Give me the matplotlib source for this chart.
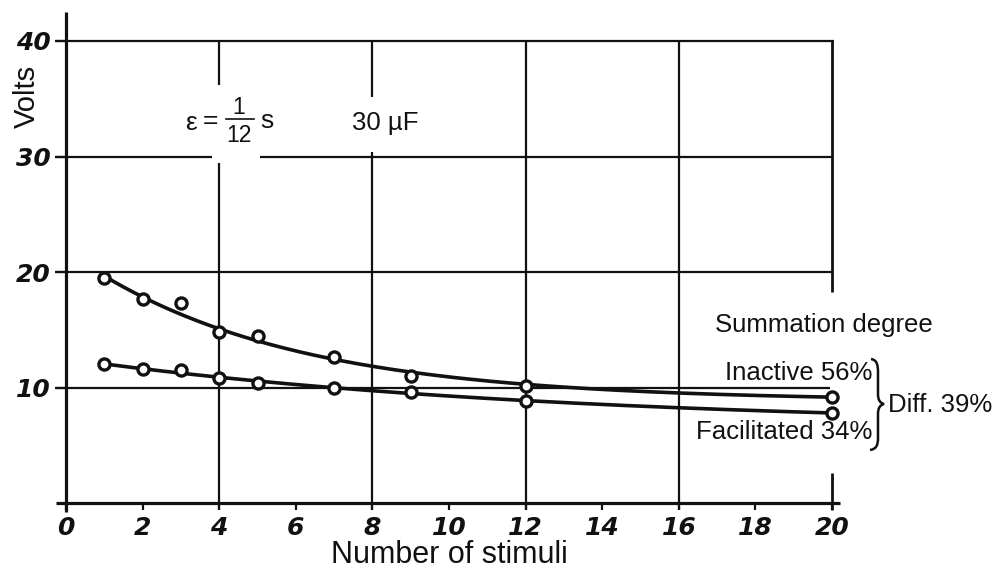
import numpy as np
import matplotlib
matplotlib.use("Agg")
import matplotlib.pyplot as plt
from matplotlib.path import Path
from matplotlib.patches import PathPatch

# Measured threshold voltage against the number of conditioning stimuli
stimuli = [1, 2, 3, 4, 5, 7, 9, 12, 20]
inactive_volts = [19.5, 17.7, 17.3, 14.8, 14.5, 12.6, 11.0, 10.1, 9.2]
facilitated_volts = [12.0, 11.6, 11.5, 10.8, 10.4, 10.0, 9.6, 8.8, 7.8]

x_ticks = list(range(0, 21, 2))
y_ticks = [10, 20, 30, 40]
x_label = "Number of stimuli"
y_label = "Volts"

INK = "#111111"
plt.rcParams["font.family"] = ["Liberation Sans", "DejaVu Sans"]

W, H = 997, 571
fig = plt.figure(figsize=(W / 100, H / 100), dpi=100)
X0, X1, Y0, Y1 = 66, 832, 503, 41          # plot frame in pixels
ax = fig.add_axes([X0 / W, 1 - Y0 / H, (X1 - X0) / W, (Y0 - Y1) / H])
ax.set_xlim(0, 20)
ax.set_ylim(0, 40)
for s in ax.spines.values():
    s.set_visible(False)


def px(xp, yp):
    """Pixel position -> data coordinates of the axes."""
    return (xp - X0) / (X1 - X0) * 20, (Y0 - yp) / (Y0 - Y1) * 40


def seg(xs, ys, lw=1.6):
    ax.plot(xs, ys, color=INK, lw=lw, solid_capstyle="butt", clip_on=False, zorder=1)


def decay_fit(x, y):
    """Least-squares fit of y = a + b*exp(-c*x), scanning the asymptote a."""
    x = np.asarray(x, float)
    y = np.asarray(y, float)
    best = None
    for a in np.linspace(y.min() - 30, y.min() - 0.05, 3000):
        k, lb = np.polyfit(x, np.log(y - a), 1)
        err = np.sum((a + np.exp(lb + k * x) - y) ** 2)
        if best is None or err < best[0]:
            best = (err, a, lb, k)
    _, a, lb, k = best
    return lambda t: a + np.exp(lb + k * t)


# axes
seg([0, 0], [-0.8, 42.5], lw=2.3)
seg([-0.25, 20.2], [0, 0], lw=2.3)

# horizontal rules (30 is broken where the time-constant label sits)
seg([-0.26, 20.05], [40, 40])
seg([-0.26, 3.81], [30, 30])
seg([5.07, 20.0], [30, 30])
seg([-0.26, 20.0], [20, 20])
seg([-0.26, 19.95], [10, 10])

# vertical rules
seg([4, 4], [-0.6, 29.4])
seg([4, 4], [36.2, 40])
seg([8, 8], [-0.6, 30.4])
seg([8, 8], [35.15, 40])
seg([12, 12], [-0.6, 40])
seg([16, 16], [-0.6, 40])
seg([20, 20], [-0.6, 2.6], lw=2.0)
seg([20, 20], [18.3, 40], lw=2.0)

# ticks and labels
ax.set_xticks(x_ticks)
ax.set_yticks(y_ticks)
ax.set_xticklabels([str(t) for t in x_ticks])
ax.set_yticklabels([str(t) for t in y_ticks])
ax.tick_params(axis="x", length=5, width=1.6, color=INK, pad=4.5, direction="out")
ax.tick_params(axis="y", length=8, width=1.6, color=INK, pad=3, direction="out")
for lab in ax.get_xticklabels() + ax.get_yticklabels():
    lab.set_fontfamily("DejaVu Sans")
    lab.set_fontweight("bold")
    lab.set_fontstyle("italic")
    lab.set_fontsize(18)
    lab.set_color(INK)

ax.set_xlabel(x_label, fontsize=22, color=INK, labelpad=0)
ax.text(*px(27, 96), y_label, rotation=90, fontsize=21, color=INK,
        ha="center", va="center", clip_on=False)

# smooth curves fitted through each series, with the measured points on top
xf = np.linspace(1, 20, 300)
for ys in (inactive_volts, facilitated_volts):
    curve = decay_fit(stimuli, ys)
    ax.plot(xf, curve(xf), color=INK, lw=2.6, zorder=3, clip_on=False)
    ax.plot(stimuli, ys, "o", ms=8, mew=2.4, mfc="white", mec=INK, zorder=4,
            clip_on=False)

# time constant written as a built-up fraction
TXT = dict(color=INK, ha="center", va="center", clip_on=False)
ax.text(*px(191, 123), "ε", fontsize=19, **TXT)
ax.text(*px(210, 121), "=", fontsize=19, **TXT)
ax.text(*px(239, 108), "1", fontsize=16.5, **TXT)
ax.text(*px(239, 136), "12", fontsize=16.5, **TXT)
bx0, by = px(226, 119)
bx1, _ = px(254, 119)
ax.plot([bx0, bx1], [by, by], color=INK, lw=1.2, clip_on=False)
ax.text(*px(267, 121), "s", fontsize=19, **TXT)

ax.text(*px(385, 123), "30 µF", fontsize=18.5, **TXT)
ax.text(*px(824, 325), "Summation degree", fontsize=18.5, **TXT)
ax.text(*px(872, 373), "Inactive 56%", fontsize=18.5, color=INK,
        ha="right", va="center", clip_on=False)
ax.text(*px(872, 432), "Facilitated 34%", fontsize=18.5, color=INK,
        ha="right", va="center", clip_on=False)
ax.text(*px(888, 405), "Diff. 39%", fontsize=18.5, color=INK,
        ha="left", va="center", clip_on=False)

# curly brace joining the two percentages
bp = [(871, 359), (877, 360), (878, 365), (878, 372),
      (878, 394),
      (878, 400), (880, 403), (884, 404),
      (880, 405), (878, 408), (878, 414),
      (878, 438),
      (878, 446), (876, 449), (870, 450)]
codes = [Path.MOVETO, Path.CURVE4, Path.CURVE4, Path.CURVE4,
         Path.LINETO,
         Path.CURVE4, Path.CURVE4, Path.CURVE4,
         Path.CURVE4, Path.CURVE4, Path.CURVE4,
         Path.LINETO,
         Path.CURVE4, Path.CURVE4, Path.CURVE4]
brace = Path([px(*p) for p in bp], codes)
ax.add_patch(PathPatch(brace, fill=False, lw=1.8, ec=INK, clip_on=False))

fig.savefig("out.png", dpi=100, facecolor="white")
